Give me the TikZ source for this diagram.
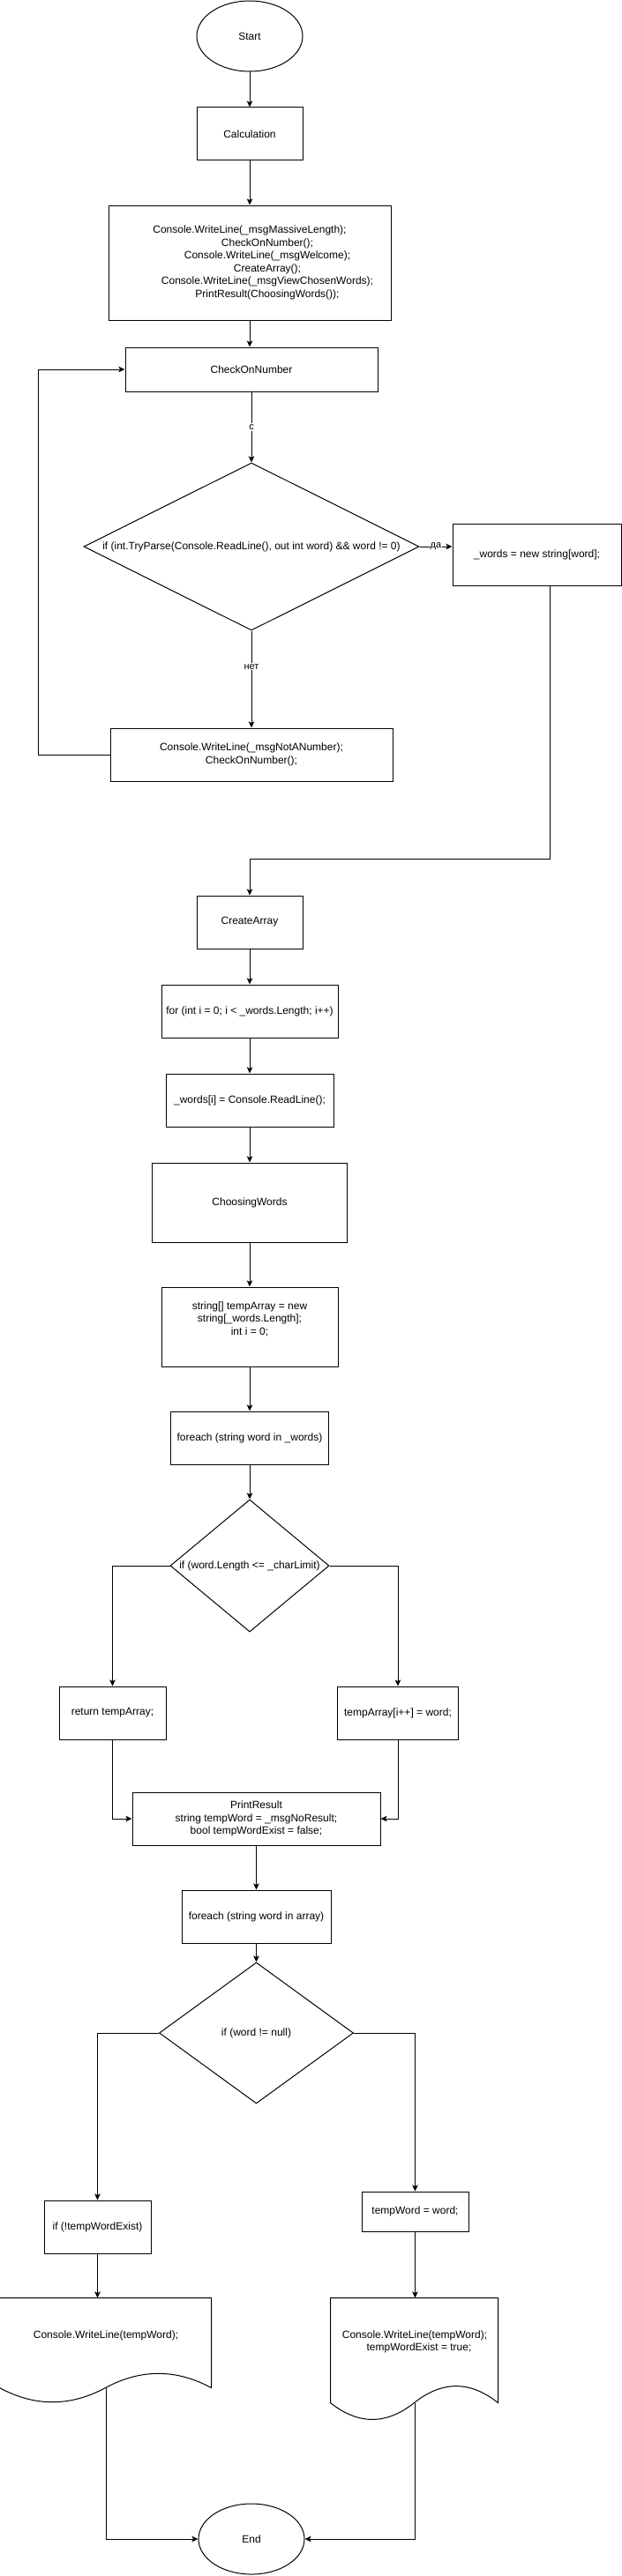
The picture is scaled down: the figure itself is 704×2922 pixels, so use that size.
\documentclass[tikz,border=0pt]{standalone}
\usepackage{fontspec}
\setmainfont{Liberation Sans}
\usetikzlibrary{positioning}
\usetikzlibrary{shapes.geometric}
\usetikzlibrary{arrows.meta}
\tikzset{
	block/.style={
		rectangle,
		draw,
		align=center,
		inner sep=0pt,
		font=\fontsize{12pt}{14.5pt}\selectfont
	},
	terminal/.style={
		ellipse,
		draw,
		inner sep=0pt,
		minimum width=120pt,
		minimum height=80pt,
		font=\fontsize{12pt}{14.5pt}\selectfont
	},
	decision/.style={
		diamond,
		draw,
		inner sep=0pt,
		font=\fontsize{12pt}{14.5pt}\selectfont
	},
	doctext/.style={
		rectangle,
		align=center,
		inner sep=0pt,
		font=\fontsize{12pt}{14.5pt}\selectfont
	},
	edgelabel/.style={
		fill=white,
		inner sep=1pt,
		font=\fontsize{11pt}{13pt}\selectfont
	},
	flowtip/.tip={Stealth[length=7pt,width=6.5pt,inset=1.5pt]}
}

\begin{document}
\begin{tikzpicture}[x=1pt, y=1pt, line width=1pt]
		\useasboundingbox (0,0) rectangle (704,-2922);
		
		\draw node[terminal] (start) at (283,-41) {Start};
		\draw node[block, minimum width=120pt, minimum height=60pt, below=40pt of start] (calc) {Calculation};
		\draw node[block, minimum width=320pt, minimum height=130pt, below=50pt of calc] (mainbox) {Console.WriteLine(\_msgMassiveLength);\\ \hspace*{40pt}CheckOnNumber();\\ \hspace*{40pt}Console.WriteLine(\_msgWelcome);\\ \hspace*{40pt}CreateArray();\\ \hspace*{40pt}Console.WriteLine(\_msgViewChosenWords);\\ \hspace*{40pt}PrintResult(ChoosingWords());};
		\draw node[block, minimum width=286pt, minimum height=50pt, below=30pt of mainbox, xshift=2pt] (checknum) {CheckOnNumber};
		\draw node[decision, minimum width=380pt, minimum height=190pt, below=80pt of checknum] (decide1) {\makebox[0pt]{if (int.TryParse(Console.ReadLine(), out int word) \&\& word != 0)}};
		\draw node[block, minimum width=320pt, minimum height=60pt, below=110pt of decide1] (notnum) {Console.WriteLine(\_msgNotANumber);\\ CheckOnNumber();};
		\draw node[block, minimum width=191pt, minimum height=70pt, right=37pt of decide1, yshift=-9pt] (words) {\_words = new string[word];};
		
		\draw node[block, minimum width=120pt, minimum height=60pt, below=129pt of notnum, xshift=-2pt] (createarr) {CreateArray};
		\draw node[block, minimum width=200pt, minimum height=60pt, below=40pt of createarr] (forbox) {for (int i = 0; i < \_words.Length; i++)};
		\draw node[block, minimum width=190pt, minimum height=60pt, below=40pt of forbox] (readbox) {\_words[i] = Console.ReadLine();};
		\draw node[block, minimum width=221pt, minimum height=90pt, below=40pt of readbox] (choose) {ChoosingWords};
		\draw node[block, minimum width=200pt, minimum height=90pt, below=50pt of choose] (temparr) {string[] tempArray = new\\ string[\_words.Length];\\ int i = 0;\\ \strut};
		\draw node[block, minimum width=179pt, minimum height=60pt, below=50pt of temparr] (foreach1) {foreach (string word in \_words)};
		\draw node[decision, minimum width=180pt, minimum height=150pt, below=39pt of foreach1] (decide2) {\makebox[0pt]{if (word.Length <= \_charLimit)}};
		\draw node[block, minimum width=121pt, minimum height=60pt, below=61pt of decide2, xshift=-155.5pt] (retarr) {return tempArray;};
		\draw node[block, minimum width=137pt, minimum height=60pt, below=61pt of decide2, xshift=168pt] (tempset) {tempArray[i++] = word;};
		
		\draw node[block, minimum width=281pt, minimum height=60pt, below=181pt of decide2, xshift=7.5pt] (printres) {PrintResult\\ string tempWord = \_msgNoResult;\\ bool tempWordExist = false;};
		\draw node[block, minimum width=169pt, minimum height=60pt, below=50pt of printres] (foreach2) {foreach (string word in array)};
		\draw node[decision, minimum width=220pt, minimum height=160pt, below=21pt of foreach2] (decide3) {\makebox[0pt]{if (word != null)}};
		\draw node[block, minimum width=121pt, minimum height=60pt, below=109pt of decide3, xshift=-180pt] (ifexist) {if (!tempWordExist)};
		\draw node[block, minimum width=121pt, minimum height=45pt, below=99pt of decide3, xshift=180pt] (tempword) {tempWord = word;};
		\draw node[doctext, minimum width=240pt, minimum height=84pt, below=50pt of ifexist, xshift=9.5pt] (docL) {Console.WriteLine(tempWord);};
		\draw node[doctext, minimum width=190pt, minimum height=99pt, below=75pt of tempword, xshift=-0.5pt] (docR) {Console.WriteLine(tempWord);\\ \hspace*{10pt}tempWordExist = true;};
		\draw node[terminal] (endnode) at (285,-2880) {End};
		
		% document outlines
		\draw[shift={(docL.north west)}] (0,0) -- (240,0) -- (240,-102) .. controls (200,-80.4) and (160,-80.4) .. (120,-102) .. controls (80,-123.6) and (40,-123.6) .. (0,-102) -- cycle;
		\draw[shift={(docR.north west)}] (0,0) -- (190,0) -- (190,-119) .. controls (158.3,-93.8) and (126.7,-93.8) .. (95,-119) .. controls (63.3,-144.2) and (31.7,-144.2) .. (0,-119) -- cycle;
		\coordinate (docLout) at ([yshift=-102pt]docL.north);
		\coordinate (docRout) at ([yshift=-119pt]docR.north);
		
		\draw [-flowtip] (start) -- (calc);
		\draw [-flowtip] (calc) -- (mainbox);
		\draw [-flowtip] (mainbox) -- (mainbox |- checknum.north);
		\draw [-flowtip] (checknum) -- node[edgelabel] {c} (decide1);
		\draw [-flowtip] (decide1.east) -- node[edgelabel] {да} (decide1.east -| words.west);
		\draw [-flowtip] (decide1) -- node[edgelabel, pos=0.37] {нет} (notnum);
		\draw [-flowtip] (notnum.west) -- ++(-81,0) |- (checknum.west);
		\draw [-flowtip] ([xshift=15pt]words.south) -- ++(0,-310) -| (createarr.north);
		
		\draw [-flowtip] (createarr) -- (forbox);
		\draw [-flowtip] (forbox) -- (readbox);
		\draw [-flowtip] (readbox) -- (choose);
		\draw [-flowtip] (choose) -- (temparr);
		\draw [-flowtip] (temparr) -- (foreach1);
		\draw [-flowtip] (foreach1) -- (decide2);
		\draw [-flowtip] (decide2.west) -| (retarr.north);
		\draw [-flowtip] (decide2.east) -| (tempset.north);
		\draw [-flowtip] (retarr.south) |- (printres.west);
		\draw [-flowtip] (tempset.south) |- (printres.east);
		
		\draw [-flowtip] (printres) -- (foreach2);
		\draw [-flowtip] (foreach2) -- (decide3);
		\draw [-flowtip] (decide3.west) -| (ifexist.north);
		\draw [-flowtip] (decide3.east) -| (tempword.north);
		\draw [-flowtip] (ifexist) -- (ifexist |- docL.north);
		\draw [-flowtip] (tempword) -- (tempword |- docR.north);
		\draw [-flowtip] (docLout) |- (endnode.west);
		\draw [-flowtip] (docRout) |- (endnode.east);
	\end{tikzpicture}
\end{document}
